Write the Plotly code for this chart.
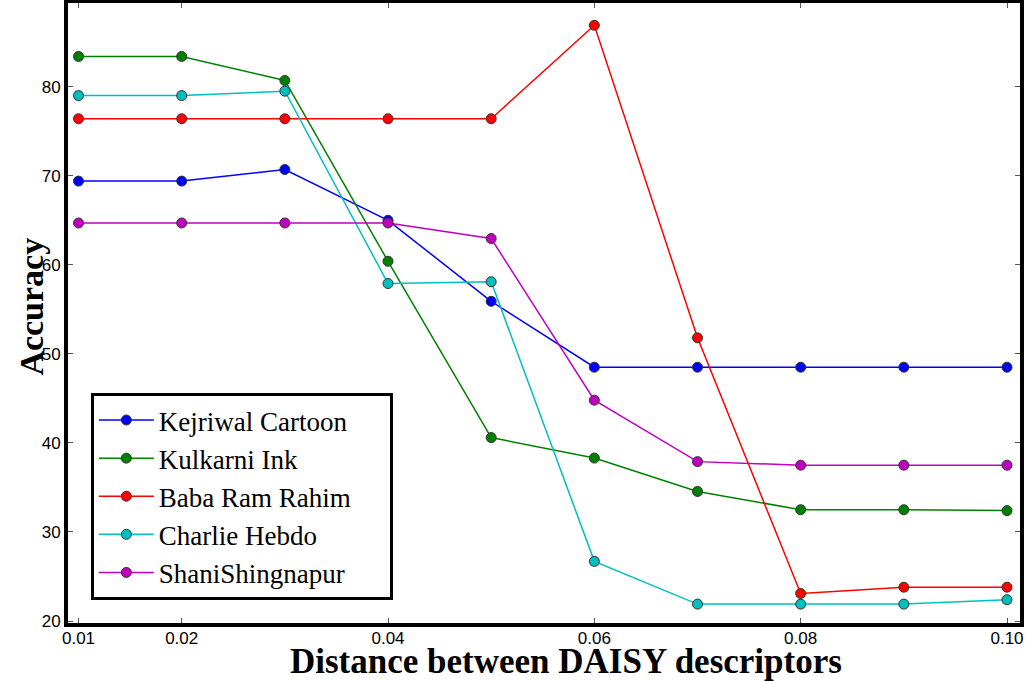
import plotly.graph_objects as go

# distance between DAISY descriptors
distance = [0.01, 0.02, 0.03, 0.04, 0.05, 0.06, 0.07, 0.08, 0.09, 0.10]

kejriwal = [69.4, 69.4, 70.7, 65.0, 55.9, 48.5, 48.5, 48.5, 48.5, 48.5]
kulkarni = [83.4, 83.4, 80.7, 60.4, 40.6, 38.3, 34.55, 32.5, 32.5, 32.4]
baba_ram = [76.4, 76.4, 76.4, 76.4, 76.4, 86.9, 51.8, 23.1, 23.8, 23.8]
charlie = [79.0, 79.0, 79.5, 57.9, 58.1, 26.7, 21.9, 21.9, 21.9, 22.4]
shani = [64.7, 64.7, 64.7, 64.7, 62.95, 44.8, 37.9, 37.5, 37.5, 37.5]

series_names = ["Kejriwal Cartoon", "Kulkarni Ink", "Baba Ram Rahim",
                "Charlie Hebdo", "ShaniShingnapur"]
series_colors = ["#0000ff", "#008000", "#ff0000", "#00bfbf", "#bf00bf"]

x_tickvals = [0.01, 0.02, 0.04, 0.06, 0.08, 0.10]
x_ticktext = ["0.01", "0.02", "0.04", "0.06", "0.08", "0.10"]
y_tickvals = [20, 30, 40, 50, 60, 70, 80]

fig = go.Figure()
for name, values, color in zip(series_names,
                               [kejriwal, kulkarni, baba_ram, charlie, shani],
                               series_colors):
    fig.add_trace(go.Scatter(
        x=distance,
        y=values,
        mode='lines+markers',
        name=name + "&nbsp;" * 5,
        line=dict(color=color, width=1.5),
        marker=dict(size=10, color=color, line=dict(color='#333333', width=1)),
    ))

axis_common = dict(
    showgrid=False,
    zeroline=False,
    showline=True,
    linecolor='black',
    linewidth=4,
    mirror='allticks',
    ticks='inside',
    ticklen=5,
    tickcolor='#555555',
    automargin=False,
    tickfont=dict(family="Liberation Sans", size=17, color='black'),
)

fig.update_xaxes(range=[0.00898, 0.10126], tickvals=x_tickvals,
                 ticktext=x_ticktext, ticklabelstandoff=-3, **axis_common)
fig.update_yaxes(range=[19.78, 89.4], tickvals=y_tickvals, **axis_common)

fig.update_layout(
    width=1028,
    height=681,
    margin=dict(l=68, r=8, t=3, b=58, autoexpand=False),
    plot_bgcolor='white',
    paper_bgcolor='white',
    showlegend=True,
    legend=dict(
        x=0.024, y=0.371, xanchor='left', yanchor='top',
        bordercolor='black', borderwidth=3, bgcolor='white',
        font=dict(family="Liberation Serif", size=27, color='black'),
        itemwidth=55,
        tracegroupgap=0,
    ),
    annotations=[
        dict(text="<b>Accuracy</b>", xref='paper', yref='paper',
             x=-0.038, y=0.51, xanchor='center', yanchor='middle',
             textangle=-90, showarrow=False,
             font=dict(family="Liberation Serif", size=34, color='black')),
        dict(text="<b>Distance between DAISY descriptors</b>", xref='paper',
             yref='paper', x=0.523, y=-0.062, xanchor='center', yanchor='middle',
             showarrow=False,
             font=dict(family="Liberation Serif", size=35, color='black')),
    ],
)

fig.write_html("out.html", config={'displayModeBar': False},
               post_script="document.body.style.margin = '0';")
